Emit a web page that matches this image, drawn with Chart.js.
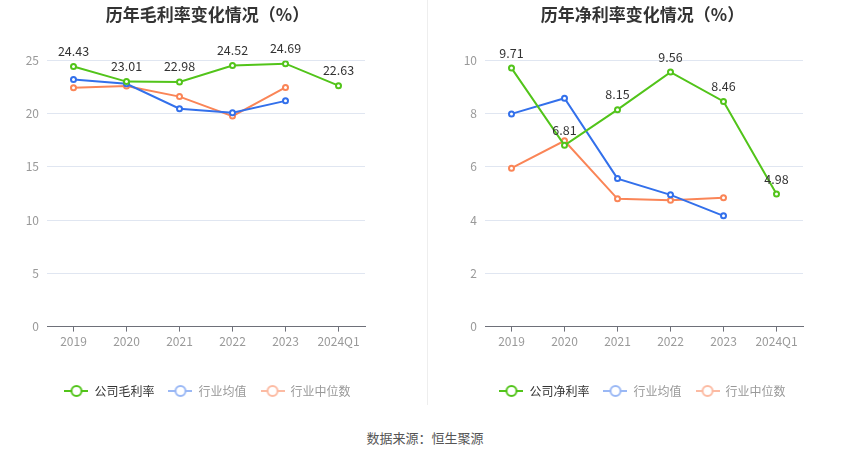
<!DOCTYPE html>
<html>
<head>
<meta charset="utf-8">
<script src="https://cdn.jsdelivr.net/npm/chart.js@4.4.1/dist/chart.umd.min.js"></script>
<style>
  body { margin: 0; background: #fff; font-family: "Noto Sans CJK SC", "Noto Sans", sans-serif; }
  #wrap { position: relative; width: 850px; height: 459px; }
  #c1 { position: absolute; left: 0; top: 0; }
  #c2 { position: absolute; left: 432px; top: 0; }
  #divider { position: absolute; left: 427px; top: 0; width: 1px; height: 405px; background: #eee; }
  #source { position: absolute; left: 0; width: 850px; top: 428px; text-align: center; font-size: 13px; color: #555; }
</style>
</head>
<body>
<div id="wrap">
  <canvas id="c1" width="408" height="415"></canvas>
  <div id="divider"></div>
  <canvas id="c2" width="412" height="415"></canvas>
  <div id="source">数据来源：恒生聚源</div>
</div>
<script>
// categories
var years = ['2019', '2020', '2021', '2022', '2023', '2024Q1'];

// gross margin (%)
var grossCompany = [24.43, 23.01, 22.98, 24.52, 24.69, 22.63];
var grossIndustryAvg = [23.2, 22.8, 20.46, 20.08, 21.2, null];
var grossIndustryMedian = [22.43, 22.6, 21.6, 19.77, 22.46, null];

// net margin (%)
var netCompany = [9.71, 6.81, 8.15, 9.56, 8.46, 4.98];
var netIndustryAvg = [7.99, 8.58, 5.56, 4.95, 4.16, null];
var netIndustryMedian = [5.95, 6.98, 4.8, 4.75, 4.84, null];

var GREEN = '#52c41a';
var BLUE = '#3370eb';
var ORANGE = '#fa8557';
var FONT = '"Noto Sans CJK SC", "Noto Sans", sans-serif';

// legend symbol: short line with a hollow circle in the middle
function legendIcon(color) {
  var c = document.createElement('canvas');
  c.width = 24; c.height = 14;
  var g = c.getContext('2d');
  g.strokeStyle = color;
  g.lineWidth = 2;
  g.beginPath(); g.moveTo(0, 7); g.lineTo(24, 7); g.stroke();
  g.beginPath(); g.arc(12, 7, 5, 0, Math.PI * 2);
  g.fillStyle = '#fff'; g.fill(); g.stroke();
  return c;
}

// draws the values above the company line
var valueLabels = {
  id: 'valueLabels',
  afterDatasetsDraw: function(chart) {
    var ctx = chart.ctx;
    var meta = chart.getDatasetMeta(0);
    var values = chart.data.datasets[0].data;
    ctx.save();
    ctx.font = '12.5px ' + FONT;
    ctx.fillStyle = '#333';
    ctx.textAlign = 'center';
    ctx.textBaseline = 'bottom';
    meta.data.forEach(function(pt, i) {
      if (values[i] == null) return;
      ctx.fillText(values[i].toFixed(2), pt.x, pt.y - 9);
    });
    ctx.restore();
  }
};

// title and legend are centred over the padded box, push them back to the middle
var centreShift = {
  id: 'centreShift',
  afterLayout: function(chart, args, opts) {
    [chart.titleBlock, chart.legend].forEach(function(box) {
      if (!box) return;
      box.left += opts.shift;
      box.right += opts.shift;
    });
  }
};

function series(label, data, color) {
  return {
    label: label,
    data: data,
    borderColor: color,
    backgroundColor: '#fff',
    borderWidth: 2,
    pointRadius: 2.5,
    pointBorderWidth: 2,
    pointBackgroundColor: '#fff',
    pointBorderColor: color,
    tension: 0,
    spanGaps: false
  };
}

function makeChart(id, title, companyLabel, company, avg, median, yMax, yStep, yWidth, padLeft, padRight, shift) {
  var ctx = document.getElementById(id).getContext('2d');
  return new Chart(ctx, {
    type: 'line',
    data: {
      labels: years,
      datasets: [
        series(companyLabel, company, GREEN),
        series('行业均值', avg, BLUE),
        series('行业中位数', median, ORANGE)
      ]
    },
    options: {
      responsive: false,
      animation: false,
      layout: { padding: { left: padLeft, right: padRight, top: 0, bottom: 8 } },
      plugins: {
        tooltip: { enabled: false },
        centreShift: { shift: shift },
        title: {
          display: true,
          text: title,
          color: '#333',
          font: { family: FONT, size: 17, weight: 'bold' },
          padding: { top: 4, bottom: 36 }
        },
        legend: {
          position: 'bottom',
          labels: {
            usePointStyle: true,
            pointStyleWidth: 24,
            padding: 14,
            font: { family: FONT, size: 12 },
            generateLabels: function(chart) {
              var cols = [GREEN, '#9ab8f5', '#fcbba3'];
              return chart.data.datasets.map(function(ds, i) {
                return {
                  text: ds.label,
                  fillStyle: '#fff',
                  strokeStyle: cols[i],
                  pointStyle: legendIcon(cols[i]),
                  fontColor: i === 0 ? '#333' : '#999',
                  hidden: false,
                  datasetIndex: i
                };
              });
            }
          }
        }
      },
      scales: {
        x: {
          offset: true,
          grid: { drawOnChartArea: false, drawTicks: true, tickLength: 5, color: '#6e7079' },
          border: { display: true, color: '#6e7079' },
          ticks: { color: '#999', font: { family: FONT, size: 12 }, padding: 3, maxRotation: 0, autoSkip: false },
          afterFit: function(scale) { scale.height += 19; }
        },
        y: {
          min: 0,
          max: yMax,
          ticks: { stepSize: yStep, color: '#999', font: { family: FONT, size: 12 }, padding: 8 },
          grid: { color: '#e0e6f1', drawTicks: false },
          border: { display: false },
          afterFit: function(scale) { scale.width = yWidth; }
        }
      }
    },
    plugins: [valueLabels, centreShift]
  });
}

makeChart('c1', '历年毛利率变化情况（%）', '公司毛利率', grossCompany, grossIndustryAvg, grossIndustryMedian, 25, 5, 37, 10, 43, 20);
makeChart('c2', '历年净利率变化情况（%）', '公司净利率', netCompany, netIndustryAvg, netIndustryMedian, 10, 2, 43, 10, 41, 20);
</script>
</body>
</html>
